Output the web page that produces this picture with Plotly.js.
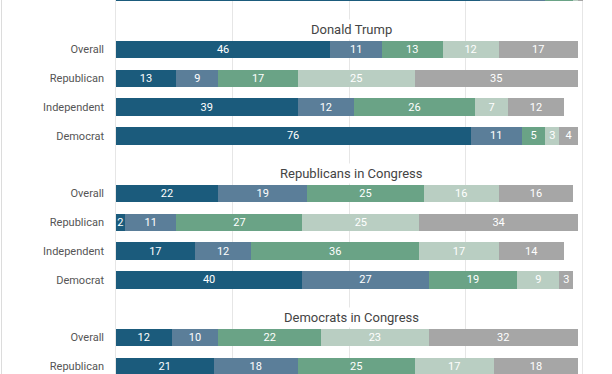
<!DOCTYPE html>
<html>
<head>
<meta charset="utf-8">
<script src="https://cdn.plot.ly/plotly-3.0.1.min.js"></script>
<style>
  html, body { margin: 0; padding: 0; background: #fff; }
  #wrap { position: relative; width: 612px; height: 374px; overflow: hidden; }
  #chart { width: 612px; height: 374px; }
  #edge { position: absolute; left: 1px; top: 0; width: 1px; height: 374px; background: #dcdcdc; }
</style>
</head>
<body>
<div id="wrap"><div id="chart"></div><div id="edge"></div></div>
<script>
// ---- data ----
const sectionTitles = ["Donald Trump", "Republicans in Congress", "Democrats in Congress"];
const groupLabels = ["Overall", "Republican", "Independent", "Democrat"];

// rows visible in the picture (section index -1 = the cropped section above)
const rowSection = [-1, 0, 0, 0, 0, 1, 1, 1, 1, 2, 2];
const rowGroup   = [3,  0, 1, 2, 3, 0, 1, 2, 3, 0, 1];

const seriesNames = ["Strongly disapprove", "Somewhat disapprove", "Neutral", "Somewhat approve", "Strongly approve"];
const series1 = [78, 46, 13, 39, 76, 22, 2, 17, 40, 12, 21];
const series2 = [14, 11, 9, 12, 11, 19, 11, 12, 27, 10, 18];
const series3 = [6, 13, 17, 26, 5, 25, 27, 36, 19, 22, 25];
const series4 = [1, 12, 25, 7, 3, 16, 25, 17, 9, 23, 17];
const series5 = [1, 17, 35, 12, 4, 16, 34, 14, 3, 32, 18];

const colors = ["#1b5b7c", "#5b7e99", "#6aa386", "#b9cec2", "#a6a6a6"];

// ---- build ----
const slotsPerSection = 5;
const rowY = rowSection.map((s, i) => s * slotsPerSection + 1 + rowGroup[i]);
const rowText = rowGroup.map(g => groupLabels[g]);
const allSeries = [series1, series2, series3, series4, series5];

const traces = allSeries.map((vals, k) => ({
  type: "bar",
  orientation: "h",
  name: seriesNames[k],
  x: vals,
  y: rowY,
  width: 0.61,
  marker: { color: colors[k], line: { width: 0 } },
  // the cropped row at the very top shows no labels in the picture
  text: vals.map((v, i) => rowSection[i] < 0 ? "" : String(v)),
  textposition: "inside",
  insidetextanchor: "middle",
  textangle: 0,
  textfont: { family: "Roboto", size: 11, color: "#ffffff" },
  hoverinfo: "none",
  showlegend: false
}));

const annotations = sectionTitles.map((t, s) => ({
  text: t,
  x: 50.5,
  y: s * slotsPerSection + 0.29,
  xref: "x",
  yref: "y",
  showarrow: false,
  xanchor: "center",
  yanchor: "middle",
  bgcolor: "#ffffff",
  borderpad: 2,
  font: { family: "Roboto", size: 13, color: "#444444" }
}));

const layout = {
  width: 612,
  height: 374,
  margin: { l: 111, r: 20, t: 0, b: 0, pad: 0 },
  paper_bgcolor: "#ffffff",
  plot_bgcolor: "#ffffff",
  barmode: "stack",
  bargap: 0,
  uniformtext: { minsize: 11, mode: "show" },
  font: { family: "Roboto", size: 11, color: "#555555" },
  xaxis: {
    range: [-1, 102],
    tickvals: [0, 25, 50, 75, 100],
    showticklabels: false,
    showgrid: true,
    gridcolor: "#e6e6e6",
    gridwidth: 1,
    zeroline: false,
    showline: false,
    ticks: "",
    fixedrange: true
  },
  yaxis: {
    range: [12.267, -0.719],
    tickvals: rowY,
    ticktext: rowText,
    showgrid: false,
    zeroline: false,
    showline: false,
    ticks: "",
    ticklabelstandoff: 6,
    tickfont: { family: "Roboto", size: 11, color: "#555555" },
    fixedrange: true
  },
  annotations: annotations
};

Plotly.newPlot("chart", traces, layout, { displayModeBar: false, staticPlot: true });
</script>
</body>
</html>
